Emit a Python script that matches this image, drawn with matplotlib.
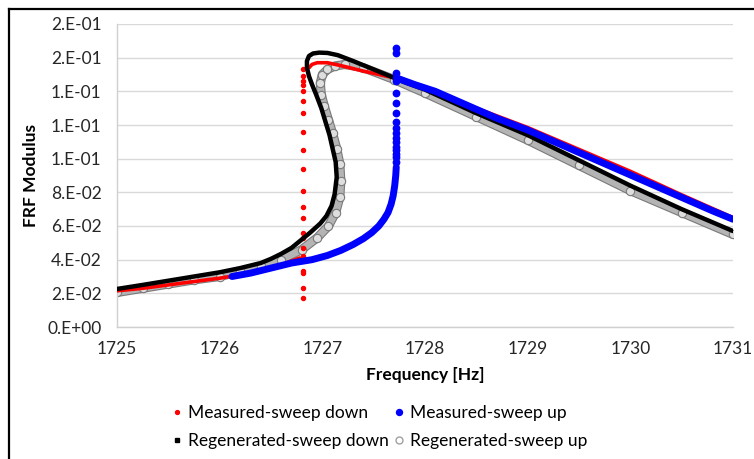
import matplotlib
matplotlib.use("Agg")
import matplotlib.pyplot as plt
import matplotlib.patheffects as pe
from matplotlib.lines import Line2D
from matplotlib.ticker import FuncFormatter, MultipleLocator

# Measured, sweep down: upper branch, jump-down dots, lower branch
red_upper_f = [1731.0, 1730.5, 1730.0, 1729.5, 1729.0, 1728.5, 1728.0, 1727.7,
               1727.4, 1727.2, 1727.05, 1726.95, 1726.9, 1726.87]
red_upper_v = [0.065, 0.0785, 0.0925, 0.1055, 0.1185, 0.130, 0.142, 0.148,
               0.152, 0.155, 0.157, 0.157, 0.156, 0.154]
red_drop_f = [1726.81] * 21
red_drop_v = [0.153, 0.149, 0.146, 0.144, 0.140, 0.134, 0.127, 0.116, 0.105,
              0.094, 0.081, 0.071, 0.065, 0.056, 0.053, 0.047, 0.042, 0.033,
              0.032, 0.023, 0.017]
red_lower_f = [1726.78, 1726.6, 1726.4, 1726.2, 1726.0, 1725.75, 1725.5,
               1725.25, 1725.0]
red_lower_v = [0.041, 0.037, 0.034, 0.031, 0.029, 0.027, 0.025, 0.023, 0.0215]

# Measured, sweep up
blue_lower_f = [1726.12, 1726.3, 1726.5, 1726.7, 1726.9, 1727.05, 1727.18,
                1727.3, 1727.4, 1727.48, 1727.55, 1727.6, 1727.64, 1727.67,
                1727.69, 1727.705, 1727.715, 1727.72]
blue_lower_v = [0.030, 0.032, 0.035, 0.038, 0.040, 0.0425, 0.0455, 0.049,
                0.0525, 0.056, 0.060, 0.064, 0.068, 0.073, 0.078, 0.084,
                0.090, 0.095]
blue_jump_f = [1727.72] * 17
blue_jump_v = [0.098, 0.101, 0.103, 0.105, 0.107, 0.110, 0.112, 0.115, 0.118,
               0.122, 0.127, 0.133, 0.139, 0.146, 0.151, 0.163, 0.166]
blue_upper_f = [1727.72, 1727.9, 1728.1, 1728.4, 1728.7, 1729.0, 1729.3,
                1729.6, 1729.9, 1730.2, 1730.5, 1730.8, 1731.0]
blue_upper_v = [0.148, 0.144, 0.140, 0.132, 0.124, 0.117, 0.109, 0.101,
                0.093, 0.085, 0.077, 0.069, 0.064]

# Regenerated, sweep down (full S-shaped response)
black_f = [1725.0, 1725.25, 1725.5, 1725.75, 1726.0, 1726.2, 1726.4, 1726.5,
           1726.6, 1726.7, 1726.78, 1726.88, 1726.98, 1727.04, 1727.09,
           1727.12, 1727.14, 1727.13, 1727.1, 1727.07, 1727.03, 1726.99,
           1726.94, 1726.9, 1726.87, 1726.85, 1726.85, 1726.87, 1726.91,
           1726.97, 1727.05, 1727.15, 1727.3, 1727.5, 1727.82, 1728.0,
           1728.5, 1729.0, 1729.5, 1730.0, 1730.5, 1731.0]
black_v = [0.0226, 0.025, 0.0275, 0.030, 0.0325, 0.035, 0.038, 0.0405, 0.0435,
           0.047, 0.051, 0.056, 0.0615, 0.066, 0.072, 0.079, 0.089, 0.098,
           0.106, 0.114, 0.122, 0.130, 0.138, 0.144, 0.149, 0.154, 0.158,
           0.161, 0.1625, 0.163, 0.1628, 0.1615, 0.158, 0.153, 0.145, 0.141,
           0.127, 0.114, 0.099, 0.084, 0.070, 0.057]

# Regenerated, sweep up
grey_f = [1725.0, 1725.25, 1725.5, 1725.75, 1726.0, 1726.2, 1726.4, 1726.6,
          1726.8, 1726.95, 1727.06, 1727.13, 1727.17, 1727.18, 1727.17,
          1727.14, 1727.1, 1727.06, 1727.02, 1726.99, 1726.98, 1727.0,
          1727.05, 1727.12, 1727.22, 1727.4, 1727.7, 1728.0, 1728.5, 1729.0,
          1729.5, 1730.0, 1730.5, 1731.0]
grey_v = [0.0205, 0.023, 0.0255, 0.028, 0.030, 0.033, 0.036, 0.040, 0.046,
          0.053, 0.060, 0.068, 0.077, 0.087, 0.097, 0.106, 0.115, 0.123,
          0.131, 0.138, 0.145, 0.150, 0.153, 0.155, 0.156, 0.154, 0.147,
          0.139, 0.125, 0.111, 0.096, 0.081, 0.068, 0.055]

x_ticks = [1725, 1726, 1727, 1728, 1729, 1730, 1731]

RED = "#ff0000"
BLUE = "#0000ff"
GREY_EDGE = "#7a7a7a"

plt.rcParams["font.family"] = ["Lato", "DejaVu Sans"]

fig = plt.figure(figsize=(7.54, 4.59), dpi=100)
ax = fig.add_axes([117 / 754, 1 - 327 / 459, 616 / 754, 303 / 459])

# grey open circles: band plus markers
ax.plot(grey_f, grey_v, color="#b4b4b4", lw=5.0, solid_capstyle="round",
        solid_joinstyle="round", zorder=2,
        path_effects=[pe.Stroke(linewidth=6.6, foreground=GREY_EDGE),
                      pe.Normal()])
ax.plot(grey_f, grey_v, ls="none", marker="o", ms=6, mfc="#dedede",
        mec=GREY_EDGE, mew=0.8, zorder=2)

# red measured sweep down
ax.plot(red_upper_f, red_upper_v, color=RED, lw=2.6, solid_capstyle="round",
        zorder=3)
ax.plot(red_lower_f, red_lower_v, color=RED, lw=2.6, solid_capstyle="round",
        zorder=3)
ax.plot(red_drop_f, red_drop_v, ls="none", color=RED, marker="o", ms=2.9,
        zorder=3)

# black regenerated sweep down
ax.plot(black_f, black_v, color="black", lw=3.2, solid_capstyle="round",
        solid_joinstyle="round", zorder=4)

# blue measured sweep up
ax.plot(blue_lower_f, blue_lower_v, color=BLUE, lw=5.0,
        solid_capstyle="round", solid_joinstyle="round", zorder=5)
ax.plot(blue_upper_f, blue_upper_v, color=BLUE, lw=5.0,
        solid_capstyle="round", solid_joinstyle="round", zorder=5)
ax.plot(blue_jump_f, blue_jump_v, ls="none", color=BLUE, marker="o", ms=4.6,
        zorder=5)

ax.set_xlim(1725, 1731)
ax.set_ylim(0, 0.18)
ax.set_xticks(x_ticks)
ax.yaxis.set_major_locator(MultipleLocator(0.02))


def excel_sci(v, pos):
    m, e = f"{v:.0e}".split("e")
    return f"{m}.E{e}"


ax.yaxis.set_major_formatter(FuncFormatter(excel_sci))
ax.tick_params(length=0, labelsize=12.5, colors="#262626")
ax.tick_params(axis="y", pad=11)
ax.tick_params(axis="x", pad=10)
ax.grid(axis="y", color="#d9d9d9", lw=1.0)
ax.set_axisbelow(True)
for side in ("top", "right"):
    ax.spines[side].set_visible(False)
for side in ("left", "bottom"):
    ax.spines[side].set_color("#d0d0d0")
    ax.spines[side].set_linewidth(1.0)

ax.set_xlabel("Frequency [Hz]", fontsize=12.5, fontweight="bold", labelpad=7)
ax.set_ylabel("FRF Modulus", fontsize=12.5, fontweight="bold", labelpad=6)

handles = [
    Line2D([], [], ls="none", marker="o", ms=2.8, color=RED),
    Line2D([], [], ls="none", marker="o", ms=4.3, color=BLUE),
    Line2D([], [], ls="none", marker="s", ms=2.3, color="black"),
    Line2D([], [], ls="none", marker="o", ms=5, mfc="white", mec="#a0a0a0"),
]
labels = ["Measured-sweep down", "Measured-sweep up",
          "Regenerated-sweep down", "Regenerated-sweep up"]
# row-major order for a 2-column legend
order = [0, 2, 1, 3]
fig.legend([handles[i] for i in order], [labels[i] for i in order],
           loc="center", bbox_to_anchor=(380 / 754, 1 - 427 / 459), ncol=2,
           frameon=False, fontsize=12.5, handlelength=0.5,
           handletextpad=0.4, columnspacing=0.3, labelspacing=0.7)

# chart area frame (left and top edges)
frame_kw = dict(color="black", lw=1.6, transform=fig.transFigure)
fig.add_artist(Line2D([9 / 754, 9 / 754], [0, 1 - 9 / 459], **frame_kw))
fig.add_artist(Line2D([9 / 754, 1], [1 - 9 / 459, 1 - 9 / 459], **frame_kw))

fig.savefig("out.png", dpi=100)
